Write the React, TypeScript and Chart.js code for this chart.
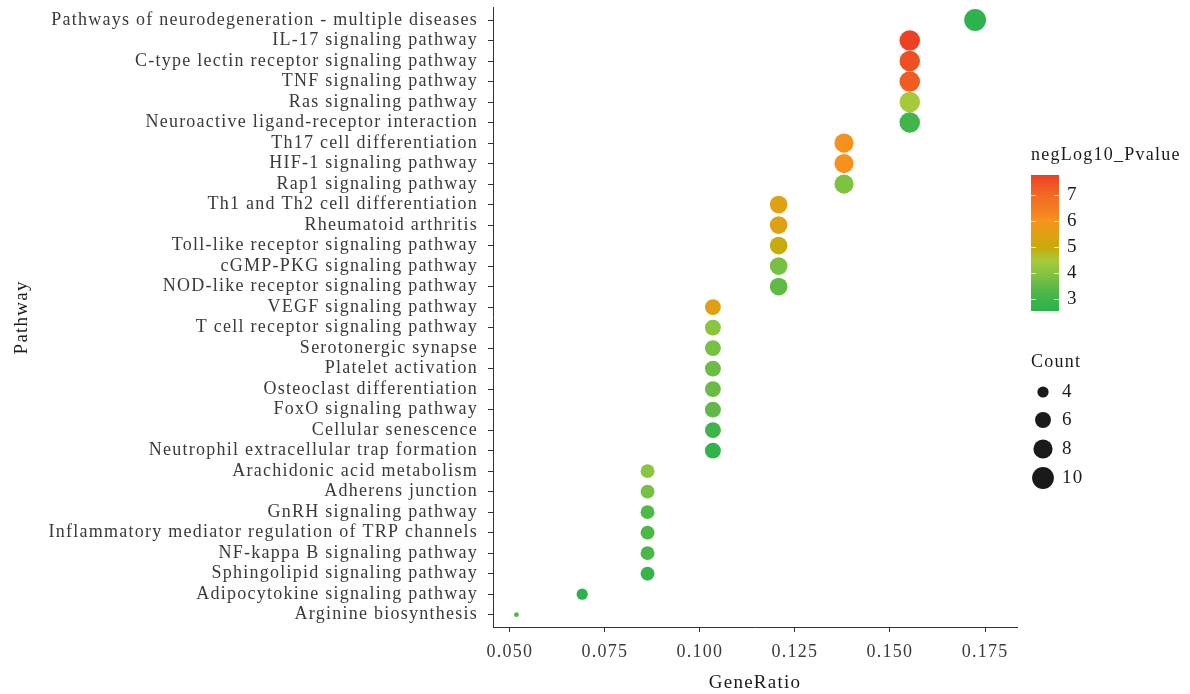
import React, { useEffect, useRef } from "react";
import { Chart, registerables } from "chart.js";

Chart.register(...registerables);

const pathways = [
  "Pathways of neurodegeneration - multiple diseases",
  "IL-17 signaling pathway",
  "C-type lectin receptor signaling pathway",
  "TNF signaling pathway",
  "Ras signaling pathway",
  "Neuroactive ligand-receptor interaction",
  "Th17 cell differentiation",
  "HIF-1 signaling pathway",
  "Rap1 signaling pathway",
  "Th1 and Th2 cell differentiation",
  "Rheumatoid arthritis",
  "Toll-like receptor signaling pathway",
  "cGMP-PKG signaling pathway",
  "NOD-like receptor signaling pathway",
  "VEGF signaling pathway",
  "T cell receptor signaling pathway",
  "Serotonergic synapse",
  "Platelet activation",
  "Osteoclast differentiation",
  "FoxO signaling pathway",
  "Cellular senescence",
  "Neutrophil extracellular trap formation",
  "Arachidonic acid metabolism",
  "Adherens junction",
  "GnRH signaling pathway",
  "Inflammatory mediator regulation of TRP channels",
  "NF-kappa B signaling pathway",
  "Sphingolipid signaling pathway",
  "Adipocytokine signaling pathway",
  "Arginine biosynthesis",
];

const geneRatio = [
  0.1724, 0.1552, 0.1552, 0.1552, 0.1552, 0.1552, 0.1379, 0.1379, 0.1379,
  0.1207, 0.1207, 0.1207, 0.1207, 0.1207, 0.1034, 0.1034, 0.1034, 0.1034,
  0.1034, 0.1034, 0.1034, 0.1034, 0.0862, 0.0862, 0.0862, 0.0862, 0.0862,
  0.0862, 0.069, 0.0517,
];

const counts = [
  10, 9, 9, 9, 9, 9, 8, 8, 8, 7, 7, 7, 7, 7, 6, 6, 6, 6, 6, 6, 6, 6, 5, 5, 5,
  5, 5, 5, 4, 3,
];

const negLog10P = [
  2.6, 7.78, 7.5, 7.3, 4.45, 3.05, 6.05, 6.05, 3.9, 5.45, 5.45, 5.0, 3.8, 3.5,
  5.5, 4.05, 3.8, 3.68, 3.62, 3.52, 3.02, 2.7, 4.05, 3.8, 3.25, 3.24, 3.2,
  2.85, 2.55, 3.25,
];

const xTicks = [0.05, 0.075, 0.1, 0.125, 0.15, 0.175];
const colorTicks = [3, 4, 5, 6, 7];
const countTicks = [4, 6, 8, 10];

const FONT = "'Liberation Serif', 'Times New Roman', serif";
const FS = 18;
const FS_TITLE = 19;
const SPACING = "1.25px";

const cMin = Math.min(...negLog10P);
const cMax = Math.max(...negLog10P);
const nMin = Math.min(...counts);
const nMax = Math.max(...counts);

const colorStops: [number, number[]][] = [
  [2.55, [43, 179, 75]],
  [3.0, [61, 181, 74]],
  [3.5, [94, 186, 69]],
  [4.0, [134, 196, 64]],
  [4.5, [168, 202, 55]],
  [5.0, [200, 170, 10]],
  [5.5, [224, 160, 21]],
  [6.0, [247, 147, 30]],
  [6.5, [244, 123, 32]],
  [7.0, [242, 106, 35]],
  [7.78, [238, 64, 35]],
];

function colorFor(v: number): string {
  if (v <= colorStops[0][0]) return `rgb(${colorStops[0][1].join(",")})`;
  for (let i = 1; i < colorStops.length; i++) {
    const [v1, c1] = colorStops[i];
    const [v0, c0] = colorStops[i - 1];
    if (v <= v1) {
      const t = (v - v0) / (v1 - v0);
      const c = c0.map((a, k) => Math.round(a + (c1[k] - a) * t));
      return `rgb(${c.join(",")})`;
    }
  }
  return `rgb(${colorStops[colorStops.length - 1][1].join(",")})`;
}

function radiusFor(n: number): number {
  const size = 1 + 5 * Math.sqrt((n - nMin) / (nMax - nMin));
  return (3.4 * size + 1.4) / 2;
}

const spacingPlugin = {
  id: "spacing",
  beforeDraw(chart: any) {
    (chart.ctx as any).letterSpacing = SPACING;
  },
};

const legendPlugin = {
  id: "ggLegend",
  afterDraw(chart: any) {
    const ctx = chart.ctx as CanvasRenderingContext2D;
    ctx.save();
    (ctx as any).letterSpacing = SPACING;
    ctx.font = `${FS}px ${FONT}`;
    ctx.fillStyle = "#1a1a1a";
    ctx.textBaseline = "middle";
    ctx.textAlign = "left";
    ctx.fillText("negLog10_Pvalue", 1031, 155);

    const bx = 1031, bw = 28, by = 175, bh = 136;
    for (let i = 0; i < bh; i++) {
      const v = cMin + ((bh - i - 0.5) / bh) * (cMax - cMin);
      ctx.fillStyle = colorFor(v);
      ctx.fillRect(bx, by + i, bw, 1);
    }
    ctx.strokeStyle = "rgba(255,255,255,0.75)";
    ctx.lineWidth = 1;
    ctx.fillStyle = "#1a1a1a";
    ctx.font = `${FS + 1}px ${FONT}`;
    for (const t of colorTicks) {
      const y = by + bh - ((t - cMin) / (cMax - cMin)) * bh;
      ctx.beginPath();
      ctx.moveTo(bx, Math.round(y) + 0.5);
      ctx.lineTo(bx + 5, Math.round(y) + 0.5);
      ctx.moveTo(bx + bw - 5, Math.round(y) + 0.5);
      ctx.lineTo(bx + bw, Math.round(y) + 0.5);
      ctx.stroke();
      ctx.fillText(String(t), bx + bw + 8, y);
    }

    ctx.font = `${FS}px ${FONT}`;
    ctx.fillText("Count", 1031, 362);
    ctx.font = `${FS + 1}px ${FONT}`;
    const ys = [392, 420, 449, 478];
    countTicks.forEach((n, i) => {
      ctx.beginPath();
      ctx.fillStyle = "#1a1a1a";
      ctx.arc(1043, ys[i], radiusFor(n), 0, Math.PI * 2);
      ctx.fill();
      ctx.fillText(String(n), 1062, ys[i]);
    });
    ctx.restore();
  },
};

export default function App() {
  const ref = useRef<HTMLCanvasElement>(null);
  useEffect(() => {
    if (!ref.current) return;
    const data = pathways.map((p, i) => ({ x: geneRatio[i], y: i }));
    const chart = new Chart(ref.current, {
      type: "scatter",
      data: {
        datasets: [
          {
            data,
            pointRadius: counts.map(radiusFor),
            pointHoverRadius: counts.map(radiusFor),
            pointBackgroundColor: negLog10P.map(colorFor),
            pointBorderWidth: 0,
            pointBorderColor: "rgba(0,0,0,0)",
            clip: false,
          },
        ],
      },
      options: {
        animation: false,
        responsive: false,
        maintainAspectRatio: false,
        layout: {
          autoPadding: false,
          padding: { left: 0, right: 173, top: 7.7, bottom: 0 },
        },
        plugins: { legend: { display: false }, tooltip: { enabled: false } },
        scales: {
          x: {
            type: "linear",
            min: 0.04553,
            max: 0.18342,
            afterBuildTicks: (s: any) => {
              s.ticks = xTicks.map((v) => ({ value: v }));
            },
            afterFit: (s: any) => {
              s.height = 67;
              s.paddingLeft = 0;
              s.paddingRight = 0;
            },
            ticks: {
              callback: (v: any) => Number(v).toFixed(3),
              font: { family: FONT, size: FS },
              color: "#3a3a3a",
              padding: 9,
              maxRotation: 0,
            },
            grid: {
              drawOnChartArea: false,
              drawTicks: true,
              tickLength: 5,
              color: "#333",
            },
            border: { display: true, color: "#333", width: 1 },
            title: {
              display: true,
              text: "GeneRatio",
              font: { family: FONT, size: FS_TITLE },
              color: "#1a1a1a",
              padding: { top: 0, bottom: 0 },
            },
          },
          y: {
            type: "linear",
            reverse: true,
            min: -0.6,
            max: pathways.length - 1 + 0.6,
            afterBuildTicks: (s: any) => {
              s.ticks = pathways.map((_, i) => ({ value: i }));
            },
            afterFit: (s: any) => {
              s.width = 493;
              s.paddingTop = 0;
              s.paddingBottom = 0;
            },
            ticks: {
              callback: (v: any) => pathways[Number(v)],
              font: { family: FONT, size: FS, lineHeight: 0.5 },
              color: "#3a3a3a",
              padding: 10,
              autoSkip: false,
            },
            grid: {
              drawOnChartArea: false,
              drawTicks: true,
              tickLength: 5,
              color: "#333",
            },
            border: { display: true, color: "#333", width: 1 },
            title: {
              display: true,
              text: "Pathway",
              font: { family: FONT, size: FS_TITLE },
              color: "#1a1a1a",
              padding: { top: 11, bottom: 0 },
            },
          },
        },
      },
      plugins: [spacingPlugin, legendPlugin],
    });
    return () => chart.destroy();
  }, []);
  return (
    <div style={{ position: "absolute", left: 0, top: 0, width: 1190, height: 694, background: "#fff" }}>
      <canvas ref={ref} width={1190} height={694} style={{ display: "block", width: 1190, height: 694 }} />
    </div>
  );
}
